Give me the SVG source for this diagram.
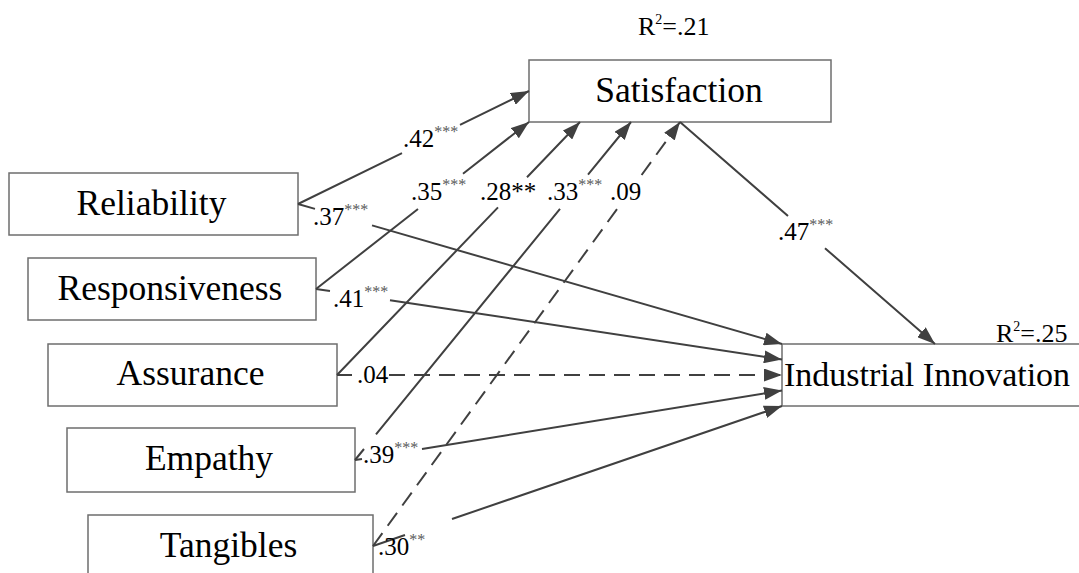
<svg xmlns="http://www.w3.org/2000/svg" width="1079" height="573" viewBox="0 0 1079 573">
<style>
.box{fill:#fff;stroke:#6e6e6e;stroke-width:1.5}
.nt{font-family:"Liberation Serif","Times New Roman",serif;font-size:35.5px;fill:#000}
.lb{font-family:"Liberation Serif","Times New Roman",serif;font-size:25px;fill:#000}
.sup{font-size:16px;fill:#5a5a5a}
.r2{font-family:"Liberation Serif","Times New Roman",serif;font-size:26px;fill:#000}
.c{fill:none;stroke:#404040;stroke-width:2;marker-end:url(#ah)}
.d{stroke-dasharray:16 9}
</style>
<defs>
<marker id="ah" viewBox="0 0 18 13" refX="18" refY="6.5" markerWidth="18" markerHeight="13" markerUnits="userSpaceOnUse" orient="auto">
<path d="M0,0 L18,6.5 L0,13 z" fill="#404040"/>
</marker>
</defs>
<rect width="1079" height="573" fill="#fff"/>

<g id="satisfaction">
<rect class="box" x="529" y="60" width="302" height="62"/>
<text class="nt" x="679" y="101.5" text-anchor="middle">Satisfaction</text>
<text class="r2" x="638" y="35">R<tspan font-size="14" dy="-11">2</tspan><tspan dy="11">=.21</tspan></text>
</g>
<g id="innovation">
<rect class="box" x="782" y="344" width="310" height="62"/>
<text class="nt" x="784" y="385.5" style="font-size:34px">Industrial Innovation</text>
<text class="r2" x="996" y="342">R<tspan font-size="14" dy="-11">2</tspan><tspan dy="11">=.25</tspan></text>
</g>
<g id="reliability">
<rect class="box" x="9" y="173" width="289" height="62"/>
<text class="nt" x="151.5" y="215" text-anchor="middle">Reliability</text>
</g>
<g id="responsiveness">
<rect class="box" x="28" y="258" width="288" height="62"/>
<text class="nt" x="170" y="299.5" text-anchor="middle">Responsiveness</text>
</g>
<g id="assurance">
<rect class="box" x="48" y="344" width="289" height="62"/>
<text class="nt" x="190.5" y="385" text-anchor="middle">Assurance</text>
</g>
<g id="empathy">
<rect class="box" x="67" y="428" width="288" height="64"/>
<text class="nt" x="209" y="470" text-anchor="middle">Empathy</text>
</g>
<g id="tangibles">
<rect class="box" x="88" y="515" width="285" height="64"/>
<text class="nt" x="228.5" y="557" text-anchor="middle">Tangibles</text>
</g>

<g id="connectors">
<path class="c" d="M298,204 L402,153.1 M460,124.8 L529,91"/>
<path class="c" d="M316,289 L418,209 M463,173.7 L529,122"/>
<path class="c" d="M337,375 L498,207.4 M527,177.2 L580,122"/>
<path class="c" d="M355,460 L364,449 M376,434.3 L560,208.9 M588,174.7 L631,122"/>
<path class="c d" d="M373,546 L618.5,207 M641.6,175 L680,122"/>
<path class="c" d="M680,122 L788,216 M825,248.2 L935,344"/>
<path class="c" d="M298,204 L315,208.9 M372,225.4 L782,344"/>
<path class="c" d="M316,289 L330,291.1 M390,300.2 L782,359.5"/>
<path class="c d" d="M337,375 L352,375 M389,375 L782,375"/>
<path class="c" d="M355,460 L362,458.9 M422,449 L782,390.5"/>
<path class="c" d="M373,546 L405,535 M452,519 L782,406"/>
</g>

<g id="labels">
<text class="lb" x="403" y="147">.42<tspan class="sup" dy="-10">***</tspan></text>
<text class="lb" x="411" y="200">.35<tspan class="sup" dy="-10">***</tspan></text>
<text class="lb" x="480" y="200">.28**</text>
<text class="lb" x="547" y="200">.33<tspan class="sup" dy="-10">***</tspan></text>
<text class="lb" x="610" y="200">.09</text>
<text class="lb" x="313" y="225">.37<tspan class="sup" dy="-10">***</tspan></text>
<text class="lb" x="333" y="307">.41<tspan class="sup" dy="-10">***</tspan></text>
<text class="lb" x="357" y="383">.04</text>
<text class="lb" x="363" y="463">.39<tspan class="sup" dy="-10">***</tspan></text>
<text class="lb" x="378" y="555">.30<tspan class="sup" dy="-10">**</tspan></text>
<text class="lb" x="778" y="240">.47<tspan class="sup" dy="-10">***</tspan></text>
</g>
</svg>
